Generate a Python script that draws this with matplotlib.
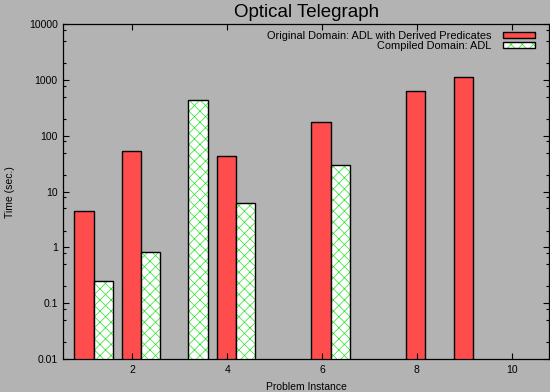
import numpy as np
import matplotlib
matplotlib.use('Agg')
from matplotlib import pyplot as plt
from matplotlib.patches import Patch
from matplotlib.ticker import LogLocator, NullFormatter, FixedLocator

plt.rcParams['font.family'] = ['Liberation Sans', 'DejaVu Sans']
plt.rcParams['hatch.linewidth'] = 0.5

# data (nan = no bar)
instances = np.arange(1, 11)
derived = [4.6, 53, np.nan, 43.5, np.nan, 179, np.nan, 627, 1117, np.nan]
compiled = [0.25, 0.83, 433, 6.2, np.nan, 30.3, np.nan, np.nan, np.nan, np.nan]
labels = ['Original Domain: ADL with Derived Predicates', 'Compiled Domain: ADL']
xticks = [2, 4, 6, 8, 10]

bg = '#b3b3b3'
red = '#ff4c4c'
green = '#22e622'

fig = plt.figure(figsize=(5.5, 3.92), dpi=100, facecolor=bg)
ax = fig.add_axes([63.3/550, 1-359/392, (549-63.3)/550, (359-24.4)/392], facecolor=bg)

w = 0.405
hatch = 'xxx'
ax.bar(instances - 0.225, derived, width=w, align='edge', bottom=0.001,
       color=red, edgecolor='k', linewidth=1.0)
ax.bar(instances + 0.18, compiled, width=w, align='edge', bottom=0.001,
       color='white', edgecolor=green, linewidth=0, hatch=hatch)
ax.bar(instances + 0.18, compiled, width=w, align='edge', bottom=0.001,
       fill=False, edgecolor='k', linewidth=1.0)

ax.set_yscale('log')
ax.set_ylim(0.01, 10000)
ax.set_xlim(0.54, 10.79)
ax.xaxis.set_major_locator(FixedLocator(xticks))
ax.set_yticks([0.01, 0.1, 1, 10, 100, 1000, 10000])
ax.set_yticklabels(['0.01', '0.1', '1', '10', '100', '1000', '10000'])
ax.yaxis.set_minor_locator(LogLocator(base=10, subs=[2, 5, 8]))
ax.yaxis.set_minor_formatter(NullFormatter())
ax.tick_params(which='both', direction='in', top=True, right=True,
               labelsize=7.5, width=0.8, colors='k')
ax.tick_params(which='major', length=4.3, pad=4)
ax.tick_params(which='minor', length=2.2)
for s in ax.spines.values():
    s.set_linewidth(0.9)

ax.set_title('Optical Telegraph', fontsize=13.5, pad=5)
ax.set_xlabel('Problem Instance', fontsize=7.5, labelpad=5)
ax.set_ylabel('Time (sec.)', fontsize=7.5, labelpad=10)

h1 = Patch(facecolor=red, edgecolor='k', linewidth=1.0)
h2 = (Patch(facecolor='white', edgecolor=green, linewidth=0, hatch=hatch),
      Patch(fill=False, edgecolor='k', linewidth=1.0))
ax.legend([h1, h2], labels, loc='upper right', frameon=False, markerfirst=False,
          fontsize=7.9, handlelength=3.0, handleheight=0.35, handletextpad=1.0,
          labelspacing=0.0, borderaxespad=0.4, borderpad=0.2,
          bbox_to_anchor=(1 - 7/486, 1))

fig.savefig('out.png', dpi=100, facecolor=bg)
